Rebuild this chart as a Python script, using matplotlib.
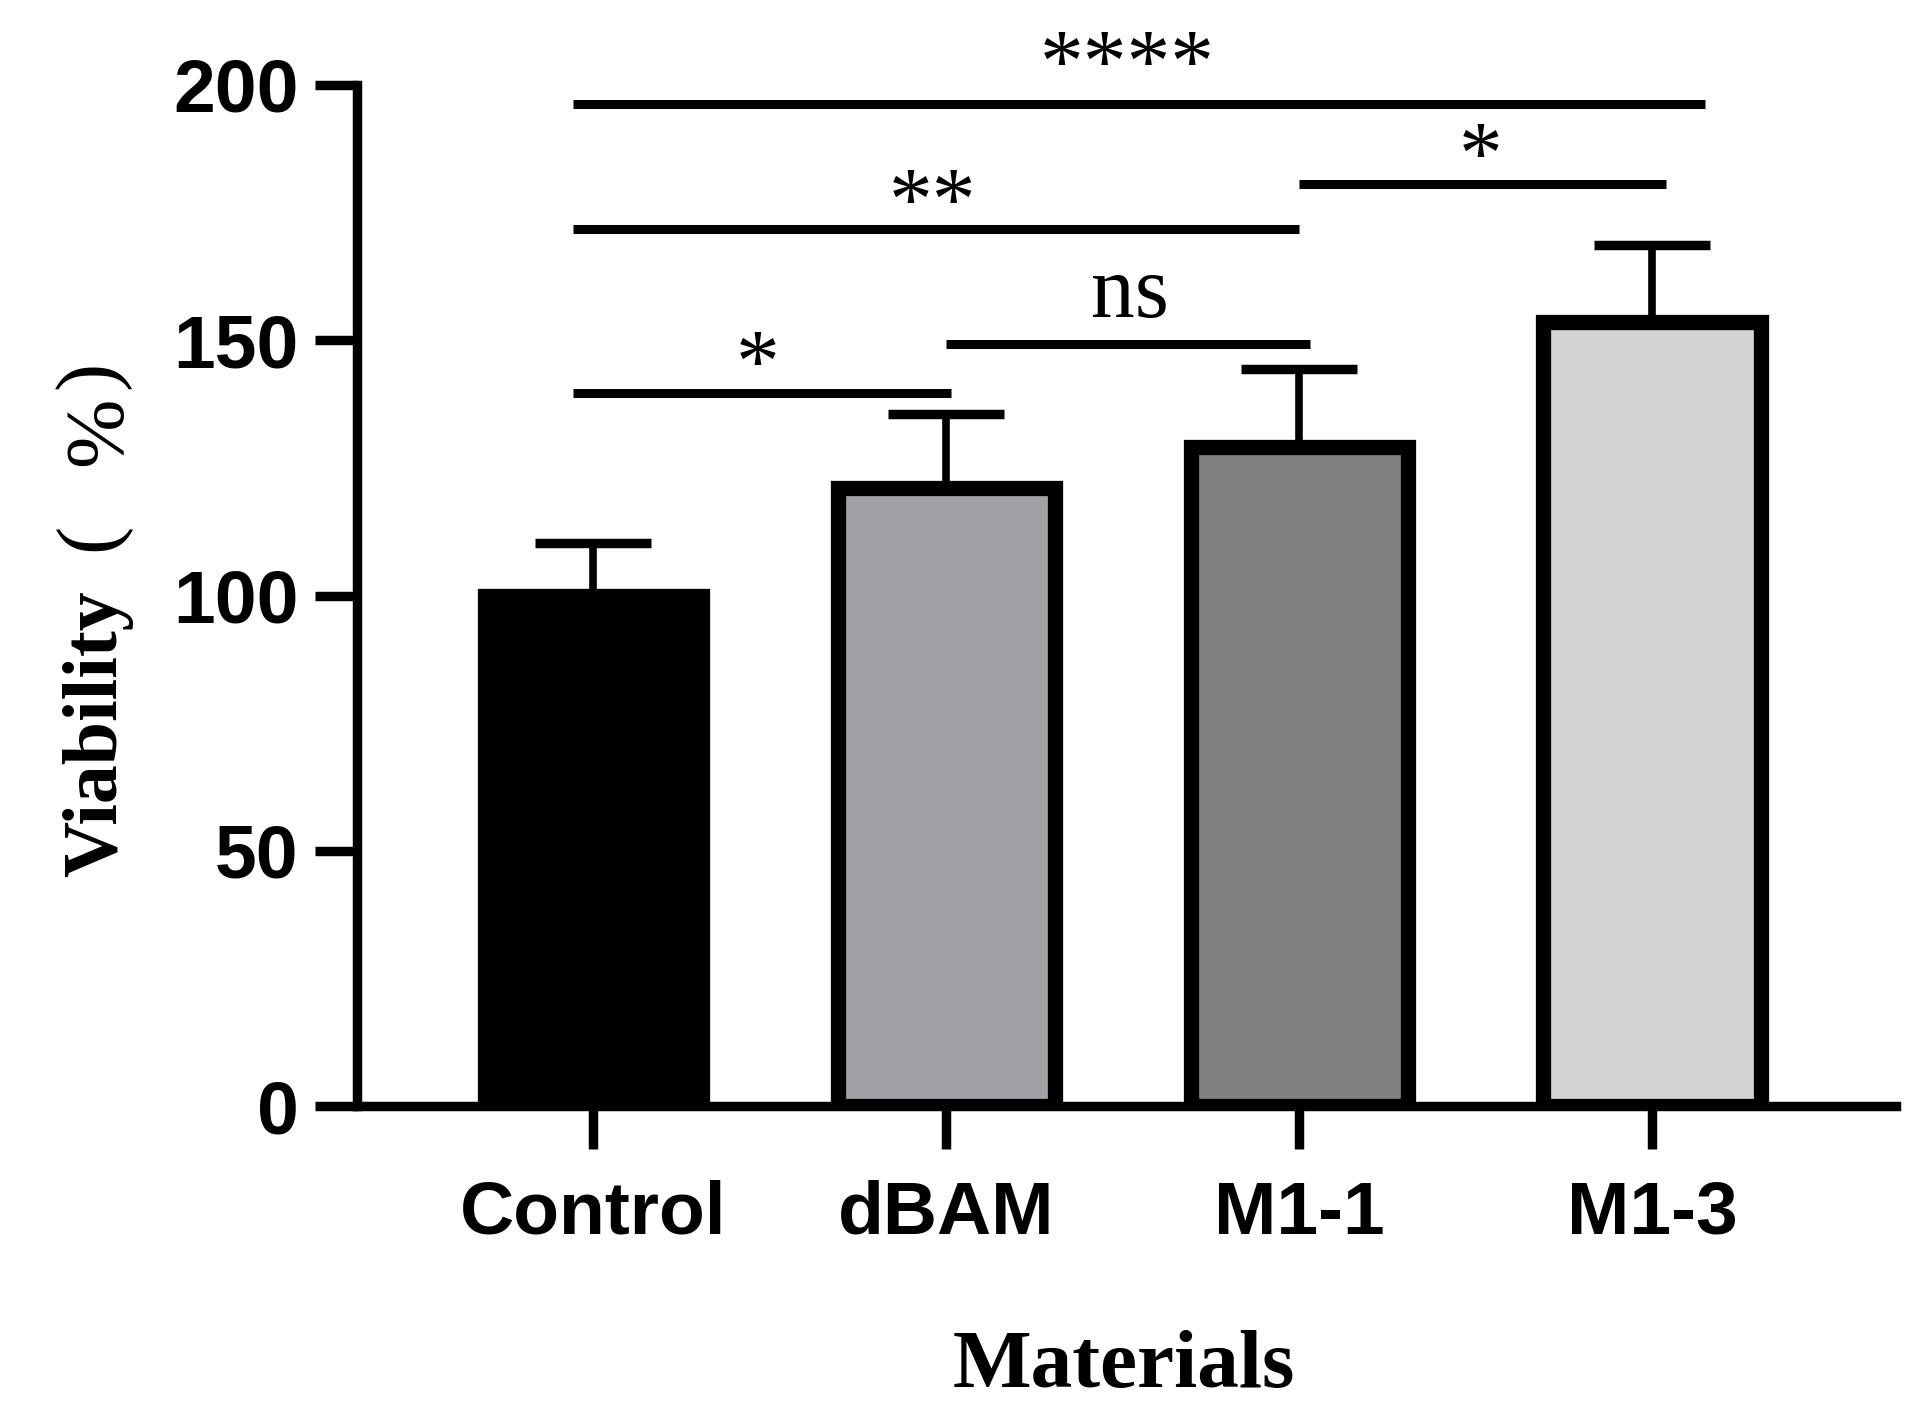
import matplotlib
matplotlib.use("Agg")
import matplotlib.pyplot as plt
from matplotlib.transforms import IdentityTransform

categories = ["Control", "dBAM", "M1-1", "M1-3"]
means = [100.0, 121.0, 129.0, 153.5]
errors = [10.3, 14.5, 15.4, 15.2]
bar_colors = ["#000000", "#a2a1a6", "#808080", "#d4d4d4"]

# significance brackets
sig_x0 = [-0.057, 1.0, -0.057, 2.0, -0.057]
sig_x1 = [1.014, 2.03, 2.0, 3.04, 3.15]
sig_y = [139.7, 149.3, 171.8, 180.6, 196.3]
sig_labels = ["*", "ns", "**", "*", "****"]
sig_tx = [0.465, 1.52, 0.96, 2.513, 1.513]
sig_ty = [140.3, 154.6, 172.0, 181.0, 199.0]

yticks = [0, 50, 100, 150, 200]

DPI = 100
W, H = 1924, 1412
fig = plt.figure(figsize=(W / DPI, H / DPI), dpi=DPI)
ax = fig.add_axes([0.1856, 1 - 1106 / H, 0.7998, (1106 - 85) / H])

x = list(range(len(categories)))
ax.errorbar(x, means, yerr=[[0] * len(errors), errors], fmt="none",
            ecolor="black", elinewidth=5.5, capsize=42, capthick=6.8, zorder=1)
ax.bar(x, means, width=0.615, color=bar_colors, edgecolor="black",
       linewidth=11, zorder=2)

for x0, x1, y, lab, tx, ty in zip(sig_x0, sig_x1, sig_y, sig_labels, sig_tx, sig_ty):
    ax.plot([x0, x1], [y, y], color="black", lw=6.5, solid_capstyle="butt",
            clip_on=False, zorder=3)
    ax.text(tx, ty, lab, ha="center", va="baseline", fontsize=63,
            family="Liberation Serif", clip_on=False)

ax.set_xlim(-0.669, 3.691)
ax.set_ylim(0, 200)
ax.set_yticks(yticks)
ax.set_yticklabels([str(v) for v in yticks])
ax.set_xticks(x)
ax.set_xticklabels(categories)

for s in ["top", "right"]:
    ax.spines[s].set_visible(False)
for s in ["left", "bottom"]:
    ax.spines[s].set_linewidth(6.8)
    ax.spines[s].set_capstyle("projecting")
ax.spines["left"].set_bounds(0, 200)

ax.tick_params(axis="y", length=30, width=6.8, pad=12)
ax.tick_params(axis="x", length=31, width=6.8, pad=22)
for lab in ax.get_yticklabels() + ax.get_xticklabels():
    lab.set_fontfamily("Liberation Sans")
    lab.set_fontweight("bold")
    lab.set_fontsize(54)

# y label: "Viability" followed by "( % )"
fig.text(98 / W, 1 - 877 / H, "Viability", rotation=90, ha="center", va="bottom",
         fontsize=56, fontweight="bold", family="Liberation Serif")


def px_text(s, ax_x, cy_top, **kw):
    fig.text(ax_x, H - cy_top, s, rotation=90, rotation_mode="anchor",
             ha="center", va="baseline", transform=IdentityTransform(), **kw)


px_text("(", 112, 537, fontsize=61, family="Liberation Serif")
px_text("%", 120, 431, fontsize=60, family="Liberation Serif")
px_text(")", 112, 375, fontsize=61, family="Liberation Serif")

fig.text(0.584, 1 - 1387 / H, "Materials", ha="center", va="baseline",
         fontsize=60, fontweight="bold", family="Liberation Serif")

fig.savefig("out.png", dpi=DPI)
